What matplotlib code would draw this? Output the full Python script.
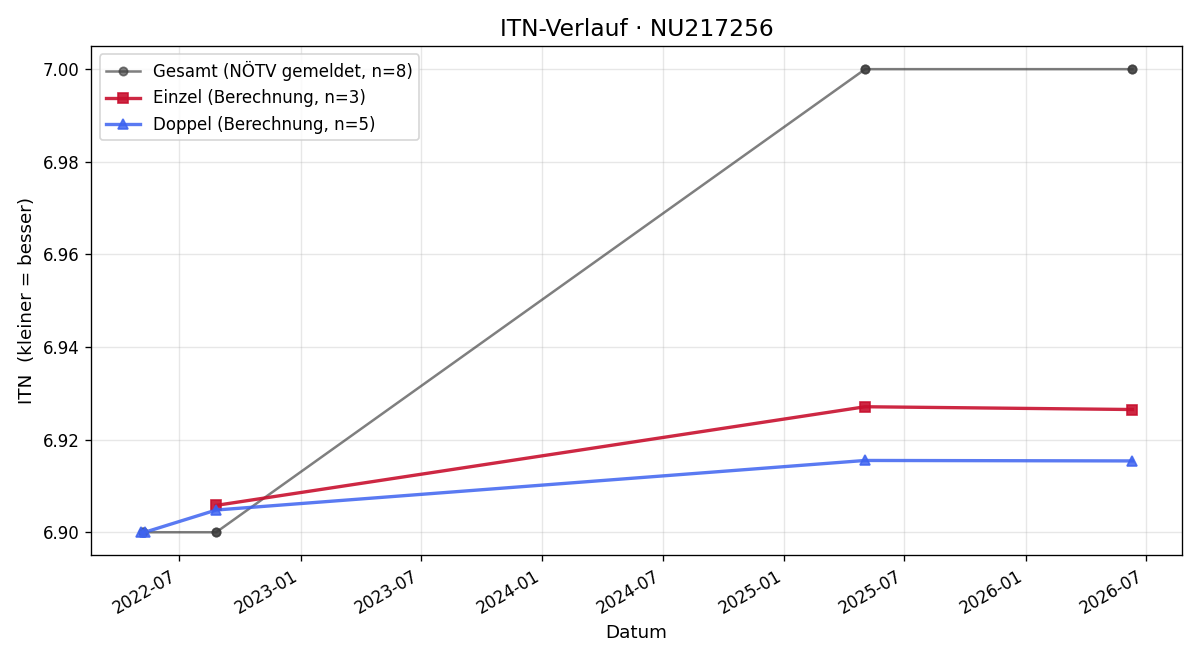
import matplotlib
matplotlib.use("Agg")
import matplotlib.pyplot as plt
import matplotlib.dates as mdates
import numpy as np

# Gesamt (NÖTV gemeldet) - 8 Meldungen, je zwei am selben Datum
gesamt_dates = np.array(["2022-05-07", "2022-05-07", "2022-08-26", "2022-08-26",
                         "2025-05-03", "2025-05-03", "2026-06-11", "2026-06-11"],
                        dtype="datetime64[D]")
gesamt_itn = [6.90, 6.90, 6.90, 6.90, 7.00, 7.00, 7.00, 7.00]

# Einzel (Berechnung)
einzel_dates = np.array(["2022-08-26", "2025-05-03", "2026-06-11"], dtype="datetime64[D]")
einzel_itn = [6.9058, 6.9271, 6.9265]

# Doppel (Berechnung)
doppel_dates = np.array(["2022-05-04", "2022-05-10", "2022-08-26", "2025-05-03", "2026-06-11"],
                        dtype="datetime64[D]")
doppel_itn = [6.900, 6.900, 6.9048, 6.9155, 6.9154]

fig, ax = plt.subplots(figsize=(10, 5.5), dpi=120)

ax.plot(gesamt_dates, gesamt_itn, color="#3a3a3a", alpha=0.65, marker="o", markersize=5,
        linewidth=1.5, label="Gesamt (NÖTV gemeldet, n=%d)" % len(gesamt_itn))
ax.plot(einzel_dates, einzel_itn, color="#c8102e", alpha=0.9, marker="s", markersize=6,
        linewidth=2.0, label="Einzel (Berechnung, n=%d)" % len(einzel_itn))
ax.plot(doppel_dates, doppel_itn, color="#3d63f0", alpha=0.85, marker="^", markersize=6,
        linewidth=2.0, label="Doppel (Berechnung, n=%d)" % len(doppel_itn))

ax.set_title("ITN-Verlauf · NU217256", fontsize=14)
ax.set_xlabel("Datum", fontsize=11)
ax.set_ylabel("ITN  (kleiner = besser)", fontsize=11)
ax.grid(True, alpha=0.3)
ax.legend(loc="upper left")

ax.xaxis.set_major_locator(mdates.MonthLocator(bymonth=[1, 7]))
ax.xaxis.set_major_formatter(mdates.DateFormatter("%Y-%m"))
fig.autofmt_xdate()

plt.tight_layout()
plt.savefig("out.png")
